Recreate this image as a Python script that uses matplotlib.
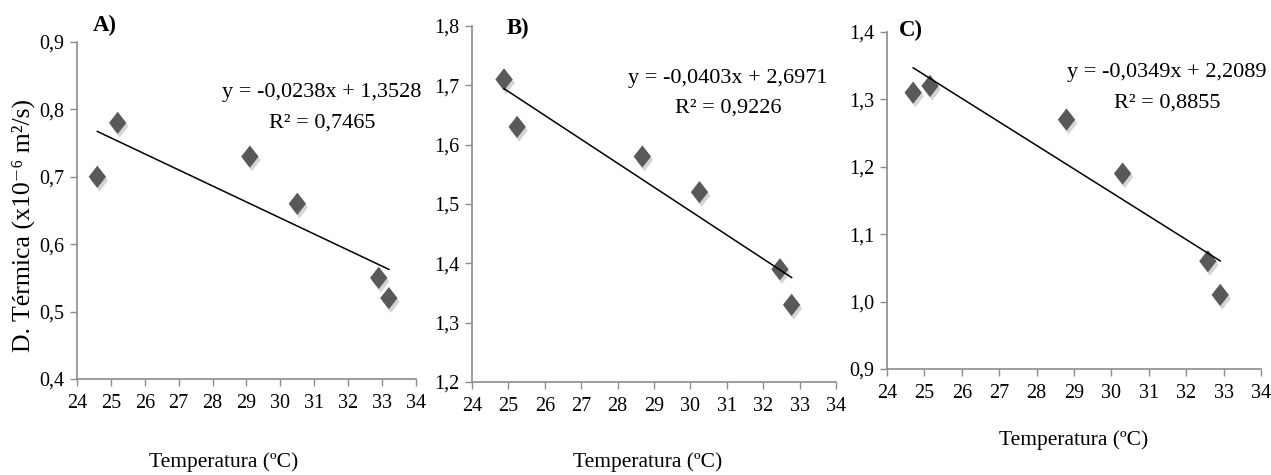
import matplotlib
matplotlib.use("Agg")
import matplotlib.pyplot as plt
import matplotlib.patheffects as pe
from matplotlib.path import Path
from matplotlib.ticker import FuncFormatter, MultipleLocator
import numpy as np

plt.rcParams['font.family'] = ['Liberation Serif', 'DejaVu Serif']

# ---- data ----
temp_a = [24.6, 25.2, 29.1, 30.5, 32.9, 33.2]
dif_a = [0.70, 0.78, 0.73, 0.66, 0.55, 0.52]
temp_b = [24.88, 25.24, 28.68, 30.25, 32.46, 32.78]
dif_b = [1.71, 1.63, 1.58, 1.52, 1.39, 1.33]
temp_c = [24.70, 25.15, 28.80, 30.30, 32.58, 32.91]
dif_c = [1.31, 1.32, 1.27, 1.19, 1.06, 1.01]

slopes = [-0.0238, -0.0403, -0.0349]
intercepts = [1.3528, 2.6971, 2.2089]
r2_values = ["0,7465", "0,9226", "0,8855"]
eq_texts = ["y = -0,0238x + 1,3528", "y = -0,0403x + 2,6971", "y = -0,0349x + 2,2089"]
panel_labels = ["A)", "B)", "C)"]
ylims = [(0.4, 0.9), (1.2, 1.8), (0.9, 1.4)]
xticks = list(range(24, 35))
x_title = "Temperatura (ºC)"
y_title = "D. Térmica (x10⁻⁶ m²/s)"

W, H = 1271, 475
fig = plt.figure(figsize=(W / 100, H / 100), dpi=100)

def frac(l, t, r, b):
    return [l / W, 1 - b / H, (r - l) / W, (b - t) / H]

boxes = [frac(77, 42, 416, 379), frac(472, 26, 836, 382), frac(887, 32, 1261, 369)]
eq_pos = [(322, 93, 123), (728, 78, 108), (1167, 73, 103)]
lab_pos = [(105, 25), (518, 28), (911, 30)]
xt_pos = [(224, 462), (648, 462), (1074, 440)]

diamond = Path([(0, 1), (0.78, 0), (0, -1), (-0.78, 0), (0, 1)],
               [Path.MOVETO, Path.LINETO, Path.LINETO, Path.LINETO, Path.CLOSEPOLY])

datasets = [(temp_a, dif_a), (temp_b, dif_b), (temp_c, dif_c)]
spine_col = '#8c8c8c'
fmt = FuncFormatter(lambda v, p: f"{v:.1f}".replace('.', ','))

for i, (box, (xs, ys)) in enumerate(zip(boxes, datasets)):
    ax = fig.add_axes(box)
    ax.set_xlim(24, 34)
    ax.set_ylim(*ylims[i])
    ax.set_xticks(xticks)
    ax.yaxis.set_major_locator(MultipleLocator(0.1))
    ax.yaxis.set_major_formatter(fmt)
    for s in ['top', 'right']:
        ax.spines[s].set_visible(False)
    for s in ['left', 'bottom']:
        ax.spines[s].set_color(spine_col)
        ax.spines[s].set_linewidth(1.2)
    ax.tick_params(axis='both', colors=spine_col, labelcolor='black', length=5,
                   width=1.0, labelsize=14.5, direction='out')
    ax.tick_params(axis='x', pad=6)
    ax.tick_params(axis='y', pad=4)
    ax.set_facecolor('none')

    ax.plot(xs, ys, linestyle='none', marker=diamond, markersize=16,
            color='#595959', markeredgewidth=0,
            path_effects=[pe.SimplePatchShadow(offset=(1.5, -2.5), shadow_rgbFace='#a0a0a0', alpha=0.45),
                          pe.Normal()], zorder=3)
    xl = np.array([min(xs), max(xs)])
    ax.plot(xl, slopes[i] * xl + intercepts[i], color='black', lw=1.1, zorder=4)

    ex, ey1, ey2 = eq_pos[i]
    fig.text(ex / W, 1 - ey1 / H, eq_texts[i], ha='center', va='center', fontsize=16)
    fig.text(ex / W, 1 - ey2 / H, "R² = " + r2_values[i], ha='center', va='center', fontsize=16)
    lx, ly = lab_pos[i]
    fig.text(lx / W, 1 - ly / H, panel_labels[i], ha='center', va='center', fontsize=16.5,
             fontweight='bold')
    tx, ty = xt_pos[i]
    fig.text(tx / W, 1 - ty / H, x_title, ha='center', va='center', fontsize=15.5)

fig.text(23 / W, 1 - 226 / H, y_title, rotation=90, ha='center', va='center', fontsize=18.5)

fig.savefig("out.png", dpi=100, facecolor='white')
